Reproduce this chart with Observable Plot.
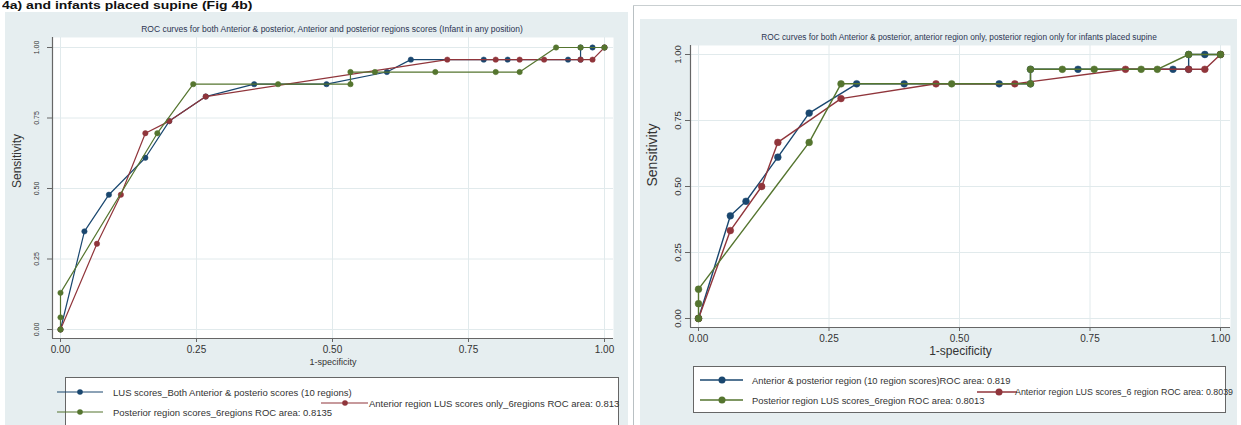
<!DOCTYPE html>
<html><head><meta charset="utf-8">
<script src="https://cdn.jsdelivr.net/npm/d3@7"></script>
<script src="https://cdn.jsdelivr.net/npm/@observablehq/plot@0.6"></script>
<style>
html,body{margin:0;padding:0}
body{width:1241px;height:425px;overflow:hidden;background:#fff;font-family:"Liberation Sans",Arial,sans-serif;position:relative;color:#222}
.abs{position:absolute}
.lbl{position:absolute;white-space:nowrap;transform:translateY(-50%);color:#333}
.title{position:absolute;white-space:nowrap;transform:translate(-50%,-50%);color:#2c3552}
</style></head><body>
<script>
// ---------- data ----------
const tickValues = [0, 0.25, 0.5, 0.75, 1];
const tickLabels = ["0.00", "0.25", "0.50", "0.75", "1.00"];

const leftTitle = "ROC curves for both Anterior & posterior, Anterior and posterior regions scores (Infant in any position)";
const rightTitle = "ROC curves for both Anterior & posterior, anterior region only, posterior region only for infants placed supine";
const xLabel = "1-specificity";
const yLabel = "Sensitivity";
const pageHeading = "4a) and infants placed supine (Fig 4b)";

// Left chart: infant in any position
const leftSeriesNames = [
  "LUS scores_Both Anterior & posterio scores (10 regions)",
  "Anterior region LUS scores only_6regions ROC area: 0.813",
  "Posterior region scores_6regions ROC area: 0.8135"
];
const leftBlueFpr  = [0, 0.044, 0.089, 0.156, 0.200, 0.267, 0.356, 0.489, 0.600, 0.644, 0.778, 0.822, 0.933, 0.956, 0.956, 0.978, 1];
const leftBlueSens = [0, 0.348, 0.478, 0.609, 0.739, 0.826, 0.870, 0.870, 0.913, 0.957, 0.957, 0.957, 0.957, 0.957, 1.000, 1.000, 1];
const leftRedFpr   = [0, 0.067, 0.111, 0.156, 0.200, 0.267, 0.711, 0.800, 0.844, 0.889, 0.956, 0.978, 1];
const leftRedSens  = [0, 0.304, 0.478, 0.696, 0.739, 0.826, 0.957, 0.957, 0.957, 0.957, 0.957, 0.957, 1];
const leftGreenFpr  = [0, 0, 0, 0.178, 0.244, 0.400, 0.533, 0.533, 0.578, 0.689, 0.800, 0.844, 0.911, 0.956, 1];
const leftGreenSens = [0, 0.043, 0.130, 0.696, 0.870, 0.870, 0.870, 0.913, 0.913, 0.913, 0.913, 0.913, 1.000, 1.000, 1];

// Right chart: infants placed supine
const rightSeriesNames = [
  "Anterior & posterior region (10 region scores)ROC area: 0.819",
  "Anterior region LUS scores_6 region ROC area: 0.8039",
  "Posterior region LUS scores_6region ROC area: 0.8013"
];
const rightBlueFpr  = [0, 0.061, 0.091, 0.152, 0.212, 0.303, 0.394, 0.576, 0.636, 0.636, 0.727, 0.909, 0.939, 0.939, 0.970, 1];
const rightBlueSens = [0, 0.389, 0.444, 0.611, 0.778, 0.889, 0.889, 0.889, 0.889, 0.944, 0.944, 0.944, 0.944, 1.000, 1.000, 1];
const rightRedFpr   = [0, 0.061, 0.121, 0.152, 0.273, 0.455, 0.606, 0.818, 0.939, 0.970, 1];
const rightRedSens  = [0, 0.333, 0.500, 0.667, 0.833, 0.889, 0.889, 0.944, 0.944, 0.944, 1];
const rightGreenFpr  = [0, 0, 0, 0.212, 0.273, 0.485, 0.636, 0.636, 0.697, 0.758, 0.848, 0.879, 0.939, 1];
const rightGreenSens = [0, 0.056, 0.111, 0.667, 0.889, 0.889, 0.889, 0.944, 0.944, 0.944, 0.944, 0.944, 1.000, 1];

const colors = ["#1a476f", "#90353b", "#55752f"];
</script>

<div class="abs" style="left:2px;top:0px;font-weight:bold;font-size:14px;line-height:14px;white-space:nowrap;color:#111;transform:scaleY(0.72);transform-origin:0 0" id="heading"></div>
<div class="abs" style="left:5px;top:12px;width:623px;height:420px;background:#e6eef0"></div>
<div class="abs" style="left:633px;top:5px;width:1px;height:425px;background:#b9c0c3"></div>
<div class="abs" style="left:633px;top:5px;width:608px;height:1px;background:#c9cfd1"></div>
<div class="abs" style="left:640px;top:19px;width:597px;height:410px;background:#e6eef0"></div>
<div id="root"></div>

<script>
document.getElementById("heading").textContent = pageHeading;
const root = document.getElementById("root");

function place(el, left, top) {
  el.style.position = "absolute";
  el.style.left = left + "px";
  el.style.top = top + "px";
  root.appendChild(el);
  return el;
}

function rocChart(o) {
  const series = o.series.map((s, k) => s.fpr.map((x, i) => ({x, y: s.sens[i], k})));
  const marks = [
    Plot.frame({fill: "white", stroke: null}),
    Plot.gridX(tickValues, {stroke: "#e1eaec", strokeOpacity: 1, strokeWidth: 1}),
    Plot.gridY(tickValues, {stroke: "#e1eaec", strokeOpacity: 1, strokeWidth: 1}),
    Plot.ruleX([o.xDomain[0]], {stroke: "#666", strokeWidth: 1.2}),
    Plot.ruleY([o.yDomain[0]], {stroke: "#666", strokeWidth: 1.2}),
    Plot.axisX({ticks: tickValues, tickFormat: (d) => tickLabels[tickValues.indexOf(d)], tickSize: 4, tickPadding: o.xPad, fontSize: o.xFont, label: null, stroke: "#666"}),
    Plot.axisY({ticks: tickValues, tickFormat: (d) => tickLabels[tickValues.indexOf(d)], tickSize: 5, tickPadding: o.yPad, tickRotate: -90, fontSize: o.yFont, label: null, stroke: "#666"})
  ];
  series.forEach((d, k) => {
    marks.push(Plot.line(d, {x: "x", y: "y", stroke: colors[k], strokeWidth: o.lw, curve: "linear"}));
    marks.push(Plot.dot(d, {x: "x", y: "y", r: o.r, fill: colors[k], stroke: colors[k], strokeWidth: 0.5}));
  });
  marks.push(Plot.text([yLabel], {frameAnchor: "left", dx: o.yLabDx, rotate: -90, fontSize: o.yLabFont, fill: "#333"}));
  marks.push(Plot.text([xLabel], {frameAnchor: "bottom", dy: o.xLabDy, fontSize: o.xLabFont, fill: "#333"}));
  return Plot.plot({
    width: o.width, height: o.height,
    marginLeft: o.ml, marginRight: o.mr, marginTop: o.mt, marginBottom: o.mb,
    x: {domain: o.xDomain},
    y: {domain: o.yDomain},
    style: {fontFamily: '"Liberation Sans", Arial, sans-serif', background: "transparent", color: "#333", overflow: "visible"},
    marks
  });
}

// Left chart: plot area page x 52..613, y 37..338 ; data 0..1 at x 60..604, y 329..47
const left = rocChart({
  series: [{fpr: leftBlueFpr, sens: leftBlueSens}, {fpr: leftRedFpr, sens: leftRedSens}, {fpr: leftGreenFpr, sens: leftGreenSens}],
  width: 615, height: 355, ml: 47, mr: 7, mt: 17, mb: 37,
  xDomain: [-8 / 544, 1 + 9 / 544], yDomain: [-9 / 282, 1 + 10 / 282],
  xPad: 3, xFont: 10, yPad: 9, yFont: 7, lw: 1.2, r: 2.7,
  yLabDx: -35, yLabFont: 12, xLabDy: 26, xLabFont: 9
});
place(left, 5, 20);

// Right chart: plot area page x 690..1230, y 45..327 ; data 0..1 at x 698..1220, y 318..54
const right = rocChart({
  series: [{fpr: rightBlueFpr, sens: rightBlueSens}, {fpr: rightRedFpr, sens: rightRedSens}, {fpr: rightGreenFpr, sens: rightGreenSens}],
  width: 596, height: 330, ml: 50, mr: 6, mt: 15, mb: 33,
  xDomain: [-8 / 522, 1 + 10 / 522], yDomain: [-9 / 264, 1 + 9 / 264],
  xPad: 3, xFont: 10, yPad: 5, yFont: 9.5, lw: 1.4, r: 3.4,
  yLabDx: -38, yLabFont: 14, xLabDy: 27, xLabFont: 12
});
place(right, 640, 30);

// Titles
function addTitle(text, cx, cy, size) {
  const d = document.createElement("div");
  d.className = "title";
  d.style.fontSize = size + "px";
  d.textContent = text;
  place(d, cx, cy);
}
addTitle(leftTitle, 332, 29, 8.5);
addTitle(rightTitle, 959, 37, 8.3);

// Legends
function legendBox(l, t, w, h) {
  const d = document.createElement("div");
  d.style.width = w + "px"; d.style.height = h + "px";
  d.style.border = "1px solid #666"; d.style.background = "#fff";
  place(d, l, t);
}
function legendItem(color, text, x1, x2, mx, y, tx, r, lw, fs) {
  const ns = "http://www.w3.org/2000/svg";
  const s = document.createElementNS(ns, "svg");
  s.setAttribute("width", x2 - x1 + 10); s.setAttribute("height", 12);
  const ln = document.createElementNS(ns, "line");
  ln.setAttribute("x1", 0); ln.setAttribute("x2", x2 - x1); ln.setAttribute("y1", 6); ln.setAttribute("y2", 6);
  ln.setAttribute("stroke", color); ln.setAttribute("stroke-width", lw);
  s.appendChild(ln);
  const c = document.createElementNS(ns, "circle");
  c.setAttribute("cx", mx - x1); c.setAttribute("cy", 6); c.setAttribute("r", r); c.setAttribute("fill", color);
  s.appendChild(c);
  s.style.position = "absolute"; s.style.left = x1 + "px"; s.style.top = (y - 6) + "px";
  root.appendChild(s);
  const t = document.createElement("div");
  t.className = "lbl"; t.style.fontSize = fs + "px"; t.textContent = text;
  place(t, tx, y);
}
legendBox(65, 377, 552, 60);
legendItem(colors[0], leftSeriesNames[0], 57, 103, 80, 392, 113, 2.8, 1.2, 9.5);
legendItem(colors[2], leftSeriesNames[2], 57, 103, 80, 412, 113, 2.8, 1.2, 9.5);
legendItem(colors[1], leftSeriesNames[1], 321, 368, 345, 403, 369, 2.8, 1.2, 9.5);

legendBox(693, 366, 531, 45);
legendItem(colors[0], rightSeriesNames[0], 700, 743, 722, 380, 752, 3.5, 1.4, 9.4);
legendItem(colors[2], rightSeriesNames[2], 700, 743, 722, 400, 752, 3.5, 1.4, 9.4);
legendItem(colors[1], rightSeriesNames[1], 977, 1017, 999, 392, 1015, 3.5, 1.4, 8.9);
</script>
</body></html>
